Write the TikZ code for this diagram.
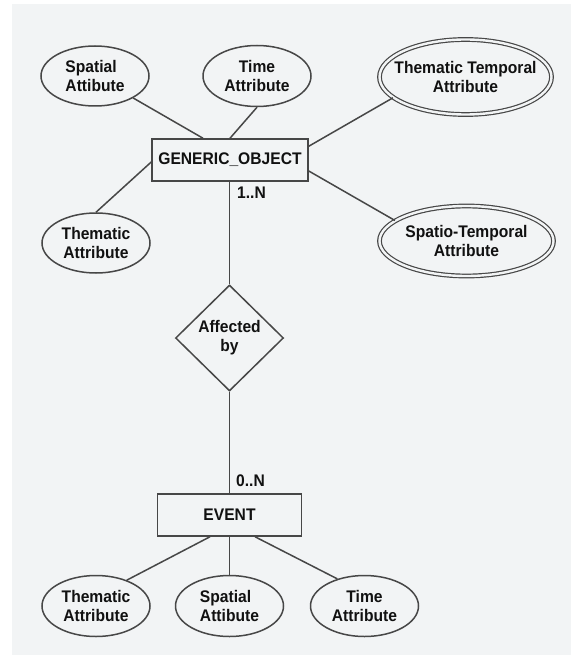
\documentclass[tikz,border=0pt]{standalone}
\usepackage{fontspec}
\setmainfont{Liberation Sans}[FakeStretch=0.93]
\usetikzlibrary{shapes.geometric,calc}
\definecolor{panel}{HTML}{F2F4F5}
\definecolor{edge}{HTML}{474747}
\definecolor{ink}{HTML}{111111}
\tikzset{
  lbl/.style={font=\fontsize{16.8}{19}\selectfont\bfseries, text=ink},
  attr/.style={ellipse, draw=edge, line width=1.5pt, fill=panel, inner sep=0pt,
               minimum width=108pt, minimum height=60pt},
  multiattr/.style={attr, double=panel, double distance=2.4pt, line width=1.2pt},
  entity/.style={rectangle, draw=edge, line width=1.5pt, fill=panel, inner sep=0pt,
                 minimum height=42pt, lbl},
  relship/.style={diamond, draw=edge, line width=1.5pt, fill=panel, inner sep=0pt,
                  minimum width=108pt, minimum height=106pt},
  link/.style={draw=edge, line width=1.5pt},
  card/.style={lbl, inner sep=0pt, anchor=west}
}
\begin{document}
\begin{tikzpicture}[x=1pt, y=-1pt]
  \useasboundingbox (0,0) rectangle (571,655);
  \fill[white] (0,0) rectangle (571,655);
  \fill[panel] (12,4) rectangle (571,655);

  % entities and relationship
  \node[entity, minimum width=156pt] (gen) at (230,160) {GENERIC\_OBJECT};
  \node[relship, label={[lbl, align=center]center:Affected\\by}] (rel) at (229.5,338) {};
  \node[entity, minimum width=144pt] (ev) at (229.5,515) {EVENT};

  % attributes of GENERIC_OBJECT
  \node[attr, label={[lbl, align=left]center:Spatial\\Attibute}] (sa) at (95,76) {};
  \node[attr, minimum height=61pt, label={[lbl, align=center]center:Time\\Attribute}] (ta) at (257,76) {};
  \node[multiattr, minimum width=172pt, minimum height=75pt,
        label={[lbl, align=center]center:Thematic Temporal\\Attribute}] (tt) at (465.5,77) {};
  \node[attr, label={[lbl, align=center]center:Thematic\\Attribute}] (th) at (96,243) {};
  \node[multiattr, minimum width=174pt, minimum height=70pt,
        label={[lbl, align=center]center:Spatio-Temporal\\Attribute}] (st) at (466.5,241) {};

  % attributes of EVENT
  \node[attr, minimum height=61pt, label={[lbl, align=center]center:Thematic\\Attribute}] (t1) at (96,606) {};
  \node[attr, minimum height=61pt, label={[lbl, align=left]center:Spatial\\Attibute}] (s2) at (229.5,606) {};
  \node[attr, minimum height=61pt, label={[lbl, align=center]center:Time\\Attribute}] (t2) at (364.5,606) {};

  % cardinalities
  \node[card] (c1) at (237,193) {1..N};
  \node[card] (c2) at (236,481) {0..N};

  % connectors
  \draw[link] ($(gen.north)+(-27,0)$) -- (sa);
  \draw[link] (gen.north) -- (ta.south);
  \draw[link] ($(gen.north east)+(0,8)$) -- (tt.196);
  \draw[link] ($(gen.west)+(0,2)$) -- (th.north);
  \draw[link] ($(gen.east)+(0,11)$) -- (st.164);
  \draw[link] (rel.north |- gen.south) -- (rel.north);
  \draw[link] (rel.south) -- (ev.north);
  \draw[link] ($(ev.south)+(-19.5,0)$) -- (t1.40);
  \draw[link] (ev.south) -- (s2.north);
  \draw[link] ($(ev.south)+(25.5,0)$) -- (t2.135);
\end{tikzpicture}
\end{document}
